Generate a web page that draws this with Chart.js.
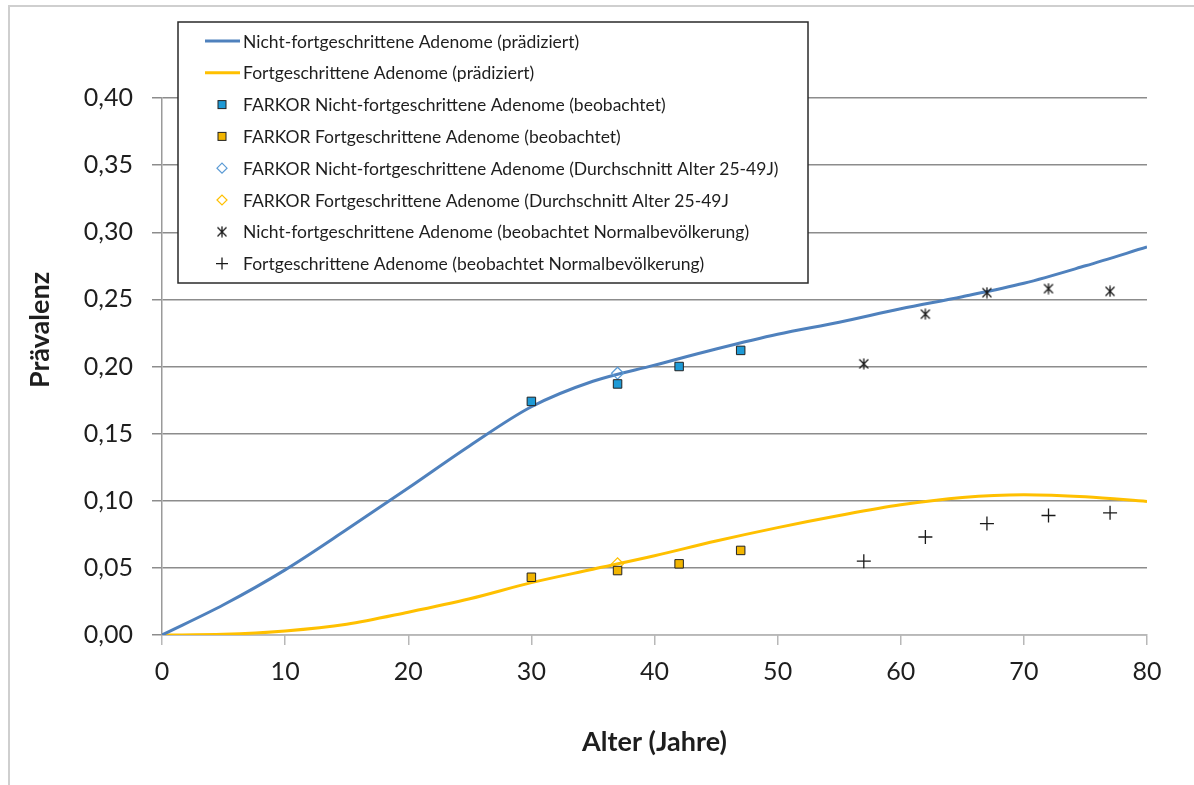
<!DOCTYPE html>
<html>
<head>
<meta charset="utf-8">
<script src="https://cdn.jsdelivr.net/npm/chart.js"></script>
<style>
  html, body { margin: 0; padding: 0; background: #fff; }
  #wrap { width: 1194px; height: 785px; }
</style>
</head>
<body>
<div id="wrap"><canvas id="chart" width="1194" height="785"></canvas></div>
<script>
// predicted curves (read every 5 years)
const ageGrid = [0, 5, 10, 15, 20, 25, 30, 35, 40, 45, 50, 55, 60, 65, 70, 75, 80];
const predNonAdvanced = [0, 0.0225, 0.0485, 0.0785, 0.1095, 0.141, 0.170, 0.189, 0.201, 0.213, 0.224, 0.233, 0.243, 0.252, 0.262, 0.275, 0.289];
const predAdvanced = [0, 0.0005, 0.003, 0.008, 0.017, 0.027, 0.039, 0.049, 0.059, 0.070, 0.080, 0.089, 0.097, 0.1025, 0.1045, 0.103, 0.0995];

// observed values
const farkorAges = [30, 37, 42, 47];
const farkorNonAdvanced = [0.174, 0.187, 0.200, 0.212];
const farkorAdvanced = [0.043, 0.048, 0.053, 0.063];
const meanAges = [37];
const meanNonAdvanced = [0.195];
const meanAdvanced = [0.053];
const popAges = [57, 62, 67, 72, 77];
const popNonAdvanced = [0.202, 0.239, 0.255, 0.258, 0.256];
const popAdvanced = [0.055, 0.073, 0.083, 0.089, 0.091];

const seriesNames = [
  'Nicht-fortgeschrittene Adenome (prädiziert)',
  'Fortgeschrittene Adenome (prädiziert)',
  'FARKOR Nicht-fortgeschrittene Adenome (beobachtet)',
  'FARKOR Fortgeschrittene Adenome (beobachtet)',
  'FARKOR Nicht-fortgeschrittene Adenome (Durchschnitt Alter 25-49J)',
  'FARKOR Fortgeschrittene Adenome (Durchschnitt Alter 25-49J',
  'Nicht-fortgeschrittene Adenome (beobachtet Normalbevölkerung)',
  'Fortgeschrittene Adenome (beobachtet Normalbevölkerung)'
];
const yTitle = 'Prävalenz';
const xTitle = 'Alter (Jahre)';

const BLUE = '#4f81bd';
const GOLD = '#ffc000';
const FONT = 'Lato, "Open Sans", sans-serif';

function pts(xs, ys) {
  return xs.map((x, i) => ({ x: x, y: ys[i] }));
}

// asterisk-like marker: X plus vertical bar
function makeStar(size) {
  const c = document.createElement('canvas');
  c.width = size; c.height = size;
  const g = c.getContext('2d');
  g.strokeStyle = '#1a1a1a';
  g.lineWidth = 1.3;
  const a = 1.5, b = size - 1.5, m = size / 2;
  g.beginPath();
  g.moveTo(a, a); g.lineTo(b, b);
  g.moveTo(b, a); g.lineTo(a, b);
  g.moveTo(m, 0.5); g.lineTo(m, size - 0.5);
  g.stroke();
  return c;
}
const starMark = makeStar(12);

const datasets = [
  { label: seriesNames[0], data: pts(ageGrid, predNonAdvanced), showLine: true, borderColor: BLUE, borderWidth: 3, pointRadius: 0, cubicInterpolationMode: 'monotone', order: 2 },
  { label: seriesNames[1], data: pts(ageGrid, predAdvanced), showLine: true, borderColor: GOLD, borderWidth: 3, pointRadius: 0, cubicInterpolationMode: 'monotone', order: 2 },
  { label: seriesNames[2], data: pts(farkorAges, farkorNonAdvanced), pointStyle: 'rect', pointRadius: 6, backgroundColor: '#1e9ad6', borderColor: '#222', borderWidth: 1, order: 1 },
  { label: seriesNames[3], data: pts(farkorAges, farkorAdvanced), pointStyle: 'rect', pointRadius: 6, backgroundColor: '#f2b500', borderColor: '#222', borderWidth: 1, order: 1 },
  { label: seriesNames[4], data: pts(meanAges, meanNonAdvanced), pointStyle: 'rectRot', pointRadius: 6, backgroundColor: 'rgba(0,0,0,0)', borderColor: '#5b9bd5', borderWidth: 1.2, order: 1 },
  { label: seriesNames[5], data: pts(meanAges, meanAdvanced), pointStyle: 'rectRot', pointRadius: 6, backgroundColor: 'rgba(0,0,0,0)', borderColor: '#ffc000', borderWidth: 1.2, order: 1 },
  { label: seriesNames[6], data: pts(popAges, popNonAdvanced), pointStyle: starMark, pointRadius: 6, order: 1 },
  { label: seriesNames[7], data: pts(popAges, popAdvanced), pointStyle: 'cross', pointRadius: 7, borderColor: '#1a1a1a', borderWidth: 1.3, order: 1 }
];

// white page, light frame, y title placed like the original (above the axis middle)
const framePlugin = {
  id: 'frame',
  beforeDraw(chart) {
    const ctx = chart.ctx;
    ctx.save();
    ctx.fillStyle = '#fff';
    ctx.fillRect(0, 0, chart.width, chart.height);
    ctx.strokeStyle = '#cfcfcf';
    ctx.lineWidth = 2;
    ctx.strokeRect(9, 6, chart.width + 20, chart.height + 20);
    ctx.translate(40, 330);
    ctx.rotate(-Math.PI / 2);
    ctx.fillStyle = '#1e1e1e';
    ctx.font = 'bold 27px ' + FONT;
    ctx.textAlign = 'center';
    ctx.textBaseline = 'middle';
    ctx.fillText(yTitle, 0, 0);
    ctx.restore();
  }
};

// boxed legend like the Excel original
const boxLegend = {
  id: 'boxLegend',
  afterDraw(chart) {
    const ctx = chart.ctx;
    const box = { x: 178, y: 22, w: 630, h: 261 };
    ctx.save();
    ctx.fillStyle = '#fff';
    ctx.fillRect(box.x, box.y, box.w, box.h);
    ctx.strokeStyle = '#2a2a2a';
    ctx.lineWidth = 1.5;
    ctx.strokeRect(box.x, box.y, box.w, box.h);
    ctx.font = '17.5px ' + FONT;
    ctx.textBaseline = 'middle';
    chart.data.datasets.forEach((ds, i) => {
      const cy = 41 + i * 31.8;
      const mx = 222;
      if (ds.showLine) {
        ctx.strokeStyle = ds.borderColor;
        ctx.lineWidth = 3;
        ctx.beginPath();
        ctx.moveTo(205, cy); ctx.lineTo(240, cy);
        ctx.stroke();
      } else if (ds.pointStyle === 'rect') {
        ctx.fillStyle = ds.backgroundColor;
        ctx.strokeStyle = ds.borderColor;
        ctx.lineWidth = 1;
        ctx.fillRect(mx - 4, cy - 4, 8, 8);
        ctx.strokeRect(mx - 4, cy - 4, 8, 8);
      } else if (ds.pointStyle === 'rectRot') {
        ctx.strokeStyle = ds.borderColor;
        ctx.lineWidth = 1.2;
        ctx.beginPath();
        ctx.moveTo(mx - 5, cy); ctx.lineTo(mx, cy - 5); ctx.lineTo(mx + 5, cy); ctx.lineTo(mx, cy + 5);
        ctx.closePath();
        ctx.stroke();
      } else if (ds.pointStyle === 'cross') {
        ctx.strokeStyle = '#1a1a1a';
        ctx.lineWidth = 1.3;
        ctx.beginPath();
        ctx.moveTo(mx - 6, cy); ctx.lineTo(mx + 6, cy);
        ctx.moveTo(mx, cy - 6); ctx.lineTo(mx, cy + 6);
        ctx.stroke();
      } else {
        ctx.drawImage(ds.pointStyle, mx - 6, cy - 6);
      }
      ctx.fillStyle = '#1e1e1e';
      ctx.fillText(ds.label, 243, cy + 1);
    });
    ctx.restore();
  }
};

new Chart(document.getElementById('chart'), {
  type: 'scatter',
  data: { datasets: datasets },
  plugins: [framePlugin, boxLegend],
  options: {
    responsive: false,
    animation: false,
    layout: { padding: { left: 0, top: 98, right: 47, bottom: 0 } },
    plugins: {
      legend: { display: false },
      tooltip: { enabled: false }
    },
    scales: {
      x: {
        type: 'linear',
        min: 0,
        max: 80,
        afterFit(scale) { scale.height = 150; },
        ticks: {
          stepSize: 10,
          color: '#1e1e1e',
          padding: 12,
          font: { family: FONT, size: 25 }
        },
        grid: {
          drawOnChartArea: false,
          color: '#b8b8b8',
          lineWidth: 1.5,
          tickLength: 10
        },
        border: { color: '#b8b8b8', width: 1.5 },
        title: {
          display: true,
          text: xTitle,
          color: '#1e1e1e',
          font: { family: FONT, size: 27, weight: 'bold' },
          padding: { top: 0, bottom: 27 }
        }
      },
      y: {
        min: 0,
        max: 0.4,
        afterFit(scale) { scale.width = 162; },
        ticks: {
          stepSize: 0.05,
          color: '#1e1e1e',
          padding: 19,
          font: { family: FONT, size: 25 },
          callback: (v) => v.toFixed(2).replace('.', ',')
        },
        grid: {
          color: '#8c8c8c',
          lineWidth: 1.5,
          tickLength: 10
        },
        border: { color: '#9a9a9a', width: 1.5 },
        title: { display: false }
      }
    }
  }
});
</script>
</body>
</html>
